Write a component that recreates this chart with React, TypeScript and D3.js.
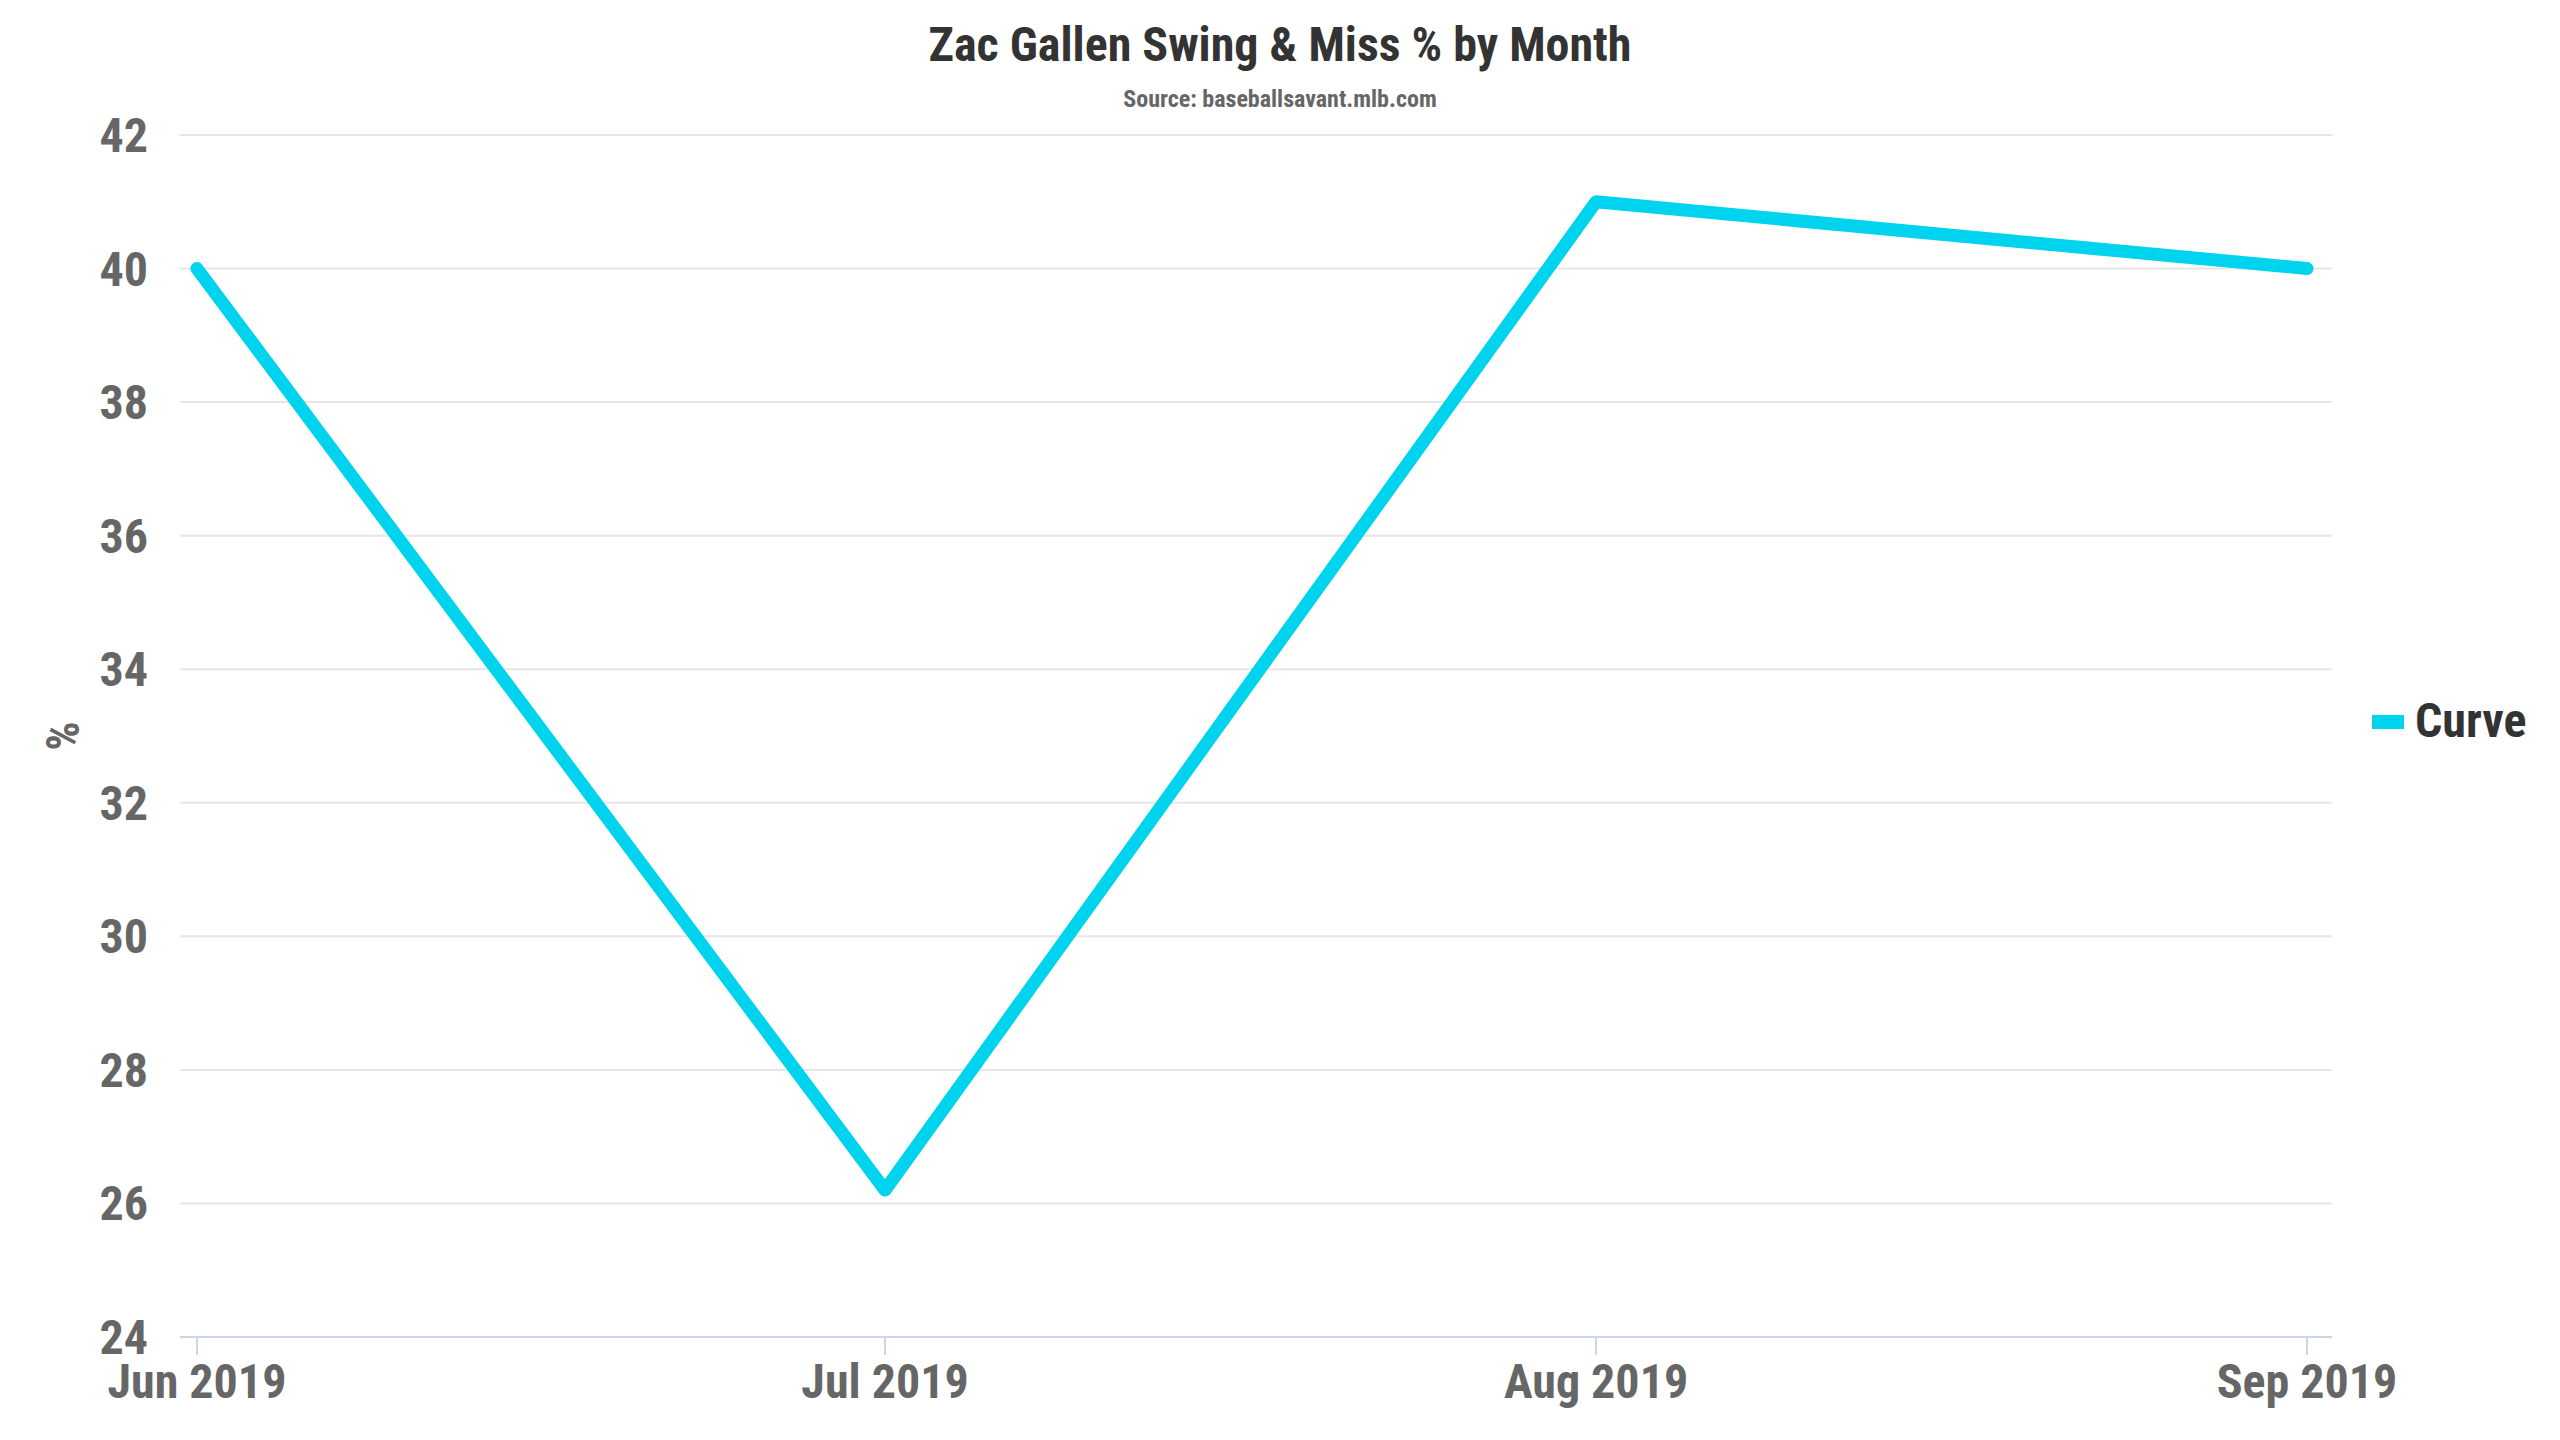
import { useEffect, useRef } from "react";
import * as d3 from "d3";

// data
const months = ["2019-06-01", "2019-07-01", "2019-08-01", "2019-09-01"];
const curveValues = [40, 26.2, 41, 40];
const yTicks = [24, 26, 28, 30, 32, 34, 36, 38, 40, 42];
const seriesName = "Curve";
const titleText = "Zac Gallen Swing & Miss % by Month";
const subtitleText = "Source: baseballsavant.mlb.com";

const FONT = "'Roboto Condensed', 'Liberation Sans Narrow', 'Arial Narrow', Roboto, sans-serif";

const App = () => {
  const ref = useRef<SVGSVGElement>(null);

  useEffect(() => {
    document.body.style.margin = "0";
    const width = 2560,
      height = 1440,
      left = 180,
      right = 2332,
      top = 135,
      bottom = 1337,
      day = 24 * 3600 * 1000;

    const parse = d3.utcParse("%Y-%m-%d");
    const dates = months.map((m) => parse(m) as Date);

    const x = d3
      .scaleUtc()
      .domain([
        new Date(dates[0].getTime() - 0.74 * day),
        new Date(dates[dates.length - 1].getTime() + 1.09 * day),
      ])
      .range([left, right]);
    const y = d3.scaleLinear().domain([24, 42]).range([bottom, top]);

    const svg = d3.select(ref.current);
    svg.selectAll("*").remove();
    svg.attr("width", width).attr("height", height).style("font-family", FONT);

    svg
      .append("rect")
      .attr("width", width)
      .attr("height", height)
      .attr("fill", "#ffffff");

    // title + subtitle
    svg
      .append("text")
      .attr("x", width / 2)
      .attr("y", 61)
      .attr("text-anchor", "middle")
      .attr("fill", "#333333")
      .style("font-size", "48px")
      .style("font-weight", "bold")
      .style("font-stretch", "condensed")
      .text(titleText);
    svg
      .append("text")
      .attr("x", width / 2)
      .attr("y", 107)
      .attr("text-anchor", "middle")
      .attr("fill", "#666666")
      .style("font-size", "24px")
      .style("font-weight", "bold")
      .style("font-stretch", "condensed")
      .text(subtitleText);

    // grid lines
    const grid = svg.append("g").attr("class", "grid");
    grid
      .selectAll("line")
      .data(yTicks.filter((t) => t !== 24))
      .enter()
      .append("line")
      .attr("x1", left)
      .attr("x2", right)
      .attr("y1", (d) => y(d))
      .attr("y2", (d) => y(d))
      .attr("stroke", "#e6e6e6")
      .attr("stroke-width", 2);

    // y labels
    svg
      .append("g")
      .selectAll("text")
      .data(yTicks)
      .enter()
      .append("text")
      .attr("x", 148)
      .attr("y", (d) => y(d) + 17)
      .attr("text-anchor", "end")
      .attr("fill", "#666666")
      .style("font-size", "48px")
      .style("font-weight", "bold")
      .style("font-stretch", "condensed")
      .text((d) => d);

    svg
      .append("text")
      .attr("transform", `translate(79,${(top + bottom) / 2}) rotate(-90)`)
      .attr("text-anchor", "middle")
      .attr("fill", "#666666")
      .style("font-size", "46px")
      .style("font-weight", "bold")
      .style("font-stretch", "condensed")
      .text("%");

    // x axis
    const xAxis = svg.append("g");
    xAxis
      .append("line")
      .attr("x1", left)
      .attr("x2", right)
      .attr("y1", bottom)
      .attr("y2", bottom)
      .attr("stroke", "#ccd6eb")
      .attr("stroke-width", 2);
    xAxis
      .selectAll("line.tick")
      .data(dates)
      .enter()
      .append("line")
      .attr("class", "tick")
      .attr("x1", (d) => x(d))
      .attr("x2", (d) => x(d))
      .attr("y1", bottom)
      .attr("y2", bottom + 18)
      .attr("stroke", "#ccd6eb")
      .attr("stroke-width", 2);
    const fmt = d3.utcFormat("%b %Y");
    xAxis
      .selectAll("text")
      .data(dates)
      .enter()
      .append("text")
      .attr("x", (d) => x(d))
      .attr("y", 1398)
      .attr("text-anchor", "middle")
      .attr("fill", "#666666")
      .style("font-size", "48px")
      .style("font-weight", "bold")
      .style("font-stretch", "condensed")
      .text((d) => fmt(d));

    // series
    const line = d3
      .line<number>()
      .x((_, i) => x(dates[i]))
      .y((d) => y(d));
    svg
      .append("path")
      .attr("d", line(curveValues) as string)
      .attr("fill", "none")
      .attr("stroke", "#00d3ee")
      .attr("stroke-width", 13)
      .attr("stroke-linejoin", "round")
      .attr("stroke-linecap", "round");

    // legend
    const legend = svg.append("g").attr("transform", "translate(2372,722)");
    legend
      .append("rect")
      .attr("x", 0)
      .attr("y", -7)
      .attr("width", 32)
      .attr("height", 14)
      .attr("fill", "#00d3ee");
    legend
      .append("text")
      .attr("x", 43)
      .attr("y", 15)
      .attr("fill", "#333333")
      .style("font-size", "48px")
      .style("font-weight", "bold")
      .style("font-stretch", "condensed")
      .text(seriesName);
  }, []);

  return <svg ref={ref} style={{ display: "block" }} />;
};

export default App;
